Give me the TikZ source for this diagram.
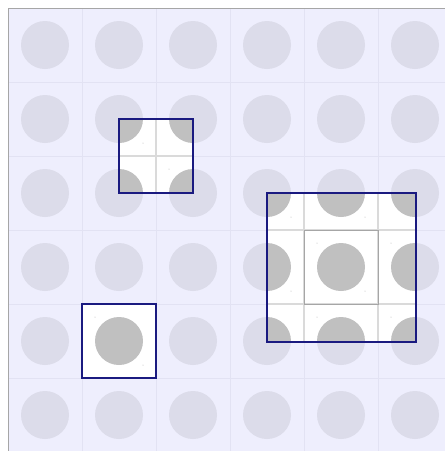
\documentclass[tikz,border=0pt]{standalone}
\definecolor{bgc}{HTML}{EEEEFD}
\definecolor{circc}{HTML}{DCDCEA}
\definecolor{gridc}{HTML}{E2E2F3}
\definecolor{hic}{HTML}{C0C0C0}
\definecolor{hgrid}{HTML}{DADADA}
\definecolor{navyc}{HTML}{1A1A80}
\newcommand\mycells{%
  \fill[white] (8,8) rectangle (452,452);
  \foreach \i in {0,...,5} \foreach \j in {0,...,5} {
    \fill[hic] (45+74*\i, 45+74*\j) circle (24);
    \fill[gray!60] (21+74*\i, 21+74*\j) circle (0.5);
    \fill[gray!60] (69+74*\i, 69+74*\j) circle (0.5);
  }
  \foreach \k in {1,...,5} {
    \draw[hgrid, line width=1.2pt] (8+74*\k,8) -- (8+74*\k,452);
    \draw[hgrid, line width=1.2pt] (8,8+74*\k) -- (452,8+74*\k);
  }
}
\tikzset{hlbox/.style={draw=navyc, line width=1.3pt}}
\begin{document}
\begin{tikzpicture}[x=1pt,y=-1pt]
\useasboundingbox (0,0) rectangle (445,451);
\begin{scope}
\clip (0,0) rectangle (445,451);
\fill[bgc] (8,8) rectangle (452,452);
\foreach \i in {0,...,5} \foreach \j in {0,...,5}
  \fill[circc] (45+74*\i, 45+74*\j) circle (24);
\foreach \k in {1,...,5} {
  \draw[gridc] (8+74*\k,8) -- (8+74*\k,452);
  \draw[gridc] (8,8+74*\k) -- (452,8+74*\k);
}
\draw[gray!70, line width=1pt] (8,452) -- (8,8) -- (452,8);
% box 1
\begin{scope}
\clip (119,119) rectangle (193,193);
\mycells
\end{scope}
\draw[hlbox] (119,119) rectangle (193,193);
% box 2
\begin{scope}
\clip (267,193) rectangle (416,342);
\mycells
\draw[gray!70, line width=0.8pt] (304,230) rectangle (378,304);
\end{scope}
\draw[hlbox] (267,193) rectangle (416,342);
% box 3
\begin{scope}
\clip (82,304) rectangle (156,378);
\mycells
\end{scope}
\draw[hlbox] (82,304) rectangle (156,378);
\end{scope}
\end{tikzpicture}
\end{document}
